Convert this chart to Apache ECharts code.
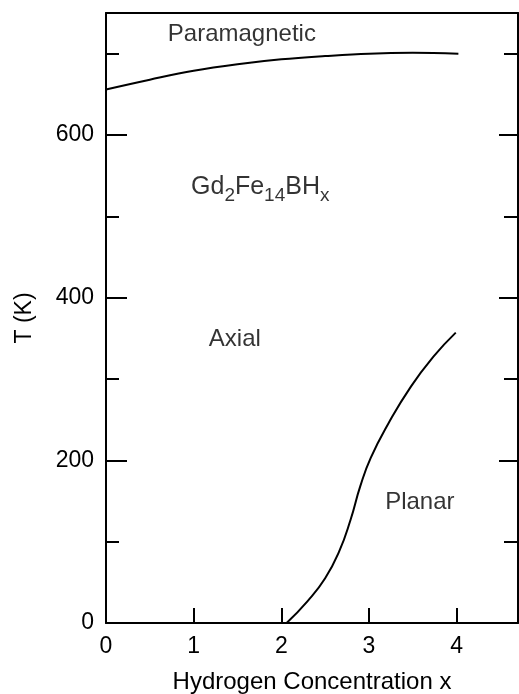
<!DOCTYPE html>
<html>
<head>
<meta charset="utf-8">
<script src="https://cdn.jsdelivr.net/npm/echarts@6/dist/echarts.min.js"></script>
<style>
html,body{margin:0;padding:0;background:#fff;}
#c{width:519px;height:694px;}
</style>
</head>
<body>
<div id="c"></div>
<script>
// Paramagnetic / ordered boundary (Curie temperature), [x, T]
const curieX = [0, 0.5, 1, 1.5, 2, 2.5, 3, 3.5, 4.02];
const curieT = [656, 668, 679, 687, 693, 697, 700, 701, 700];
// Axial / planar spin-reorientation boundary, [x, T]
const srX = [2.06, 2.3, 2.5, 2.66, 2.79, 2.9, 3.02, 3.22, 3.48, 3.74, 3.99];
const srT = [0, 27, 55, 88, 127, 168, 203, 245, 291, 328, 357];
// Axis ticks
const xTicks = [0, 1, 2, 3, 4];
const yTicks = [0, 200, 400, 600];
// Region annotations
const noteText = ['Paramagnetic', 'Axial', 'Planar'];
const noteX = [1.55, 1.47, 3.58];
const noteT = [724, 349, 148];

const FONT = 'Liberation Sans, Arial, Helvetica, sans-serif';
const chart = echarts.init(document.getElementById('c'), null, {renderer: 'canvas'});

const axisLine = {show: true, onZero: false, lineStyle: {color: '#000', width: 2}};
const option = {
  backgroundColor: '#fff',
  animation: false,
  grid: {left: 106, right: 1, top: 13, bottom: 71, containLabel: false, outerBoundsMode: 'none'},
  xAxis: [{
    type: 'value', min: 0, max: 4.7, interval: 1, position: 'bottom',
    name: 'Hydrogen Concentration x', nameLocation: 'middle', nameGap: 47,
    nameTextStyle: {fontFamily: FONT, fontSize: 24, color: '#000'},
    axisLine: axisLine,
    axisTick: {show: true, inside: true, length: 15, lineStyle: {color: '#000', width: 2}},
    axisLabel: {fontFamily: FONT, fontSize: 23, color: '#000', margin: 12, showMaxLabel: false,
      formatter: v => xTicks.includes(v) ? String(v) : ''},
    splitLine: {show: false}
  }, {
    type: 'value', min: 0, max: 4.7, position: 'top',
    axisLine: axisLine, axisTick: {show: false}, axisLabel: {show: false}, splitLine: {show: false}
  }],
  yAxis: [{
    type: 'value', min: 0, max: 750, interval: 200, position: 'left',
    name: 'T (K)', nameLocation: 'middle', nameGap: 70, nameRotate: 90,
    nameTextStyle: {fontFamily: FONT, fontSize: 23, color: '#000'},
    axisLine: axisLine,
    axisTick: {show: true, inside: true, length: 21, lineStyle: {color: '#000', width: 2}},
    minorTick: {show: true, splitNumber: 2, length: 13, lineStyle: {color: '#000', width: 2}},
    axisLabel: {fontFamily: FONT, fontSize: 23, color: '#000', margin: 12, showMaxLabel: false,
      formatter: v => yTicks.includes(v) ? String(v) : ''},
    splitLine: {show: false}, minorSplitLine: {show: false}
  }, {
    type: 'value', min: 0, max: 750, interval: 200, position: 'right',
    axisLine: axisLine,
    axisTick: {show: true, inside: true, length: 19, lineStyle: {color: '#000', width: 2}},
    minorTick: {show: true, splitNumber: 2, length: 14, lineStyle: {color: '#000', width: 2}},
    axisLabel: {show: false}, splitLine: {show: false}, minorSplitLine: {show: false}
  }],
  series: [{
    type: 'line', xAxisIndex: 0, yAxisIndex: 0, smooth: 0.4, symbol: 'none',
    lineStyle: {color: '#000', width: 2},
    data: curieX.map((x, i) => [x, curieT[i]])
  }, {
    type: 'line', xAxisIndex: 0, yAxisIndex: 0, smooth: 0.5, symbol: 'none',
    lineStyle: {color: '#000', width: 2},
    data: srX.map((x, i) => [x, srT[i]])
  }, {
    type: 'scatter', xAxisIndex: 0, yAxisIndex: 0, symbolSize: 0, silent: true,
    label: {show: true, position: 'inside', fontFamily: FONT, fontSize: 24, color: '#000',
      formatter: p => p.data[2]},
    data: noteX.map((x, i) => [x, noteT[i], noteText[i]])
  }, {
    type: 'scatter', xAxisIndex: 0, yAxisIndex: 0, symbolSize: 0, silent: true,
    label: {show: true, position: 'right', distance: 0, color: '#000',
      formatter: '{n|Gd}{s|2}{n|Fe}{s|14}{n|BH}{s|x}',
      rich: {
        n: {fontFamily: FONT, fontSize: 25, color: '#000', lineHeight: 36, verticalAlign: 'middle'},
        s: {fontFamily: FONT, fontSize: 19, color: '#000', lineHeight: 19, verticalAlign: 'bottom'}
      }},
    data: [[0.97, 536]]
  }]
};
chart.setOption(option);
</script>
</body>
</html>
